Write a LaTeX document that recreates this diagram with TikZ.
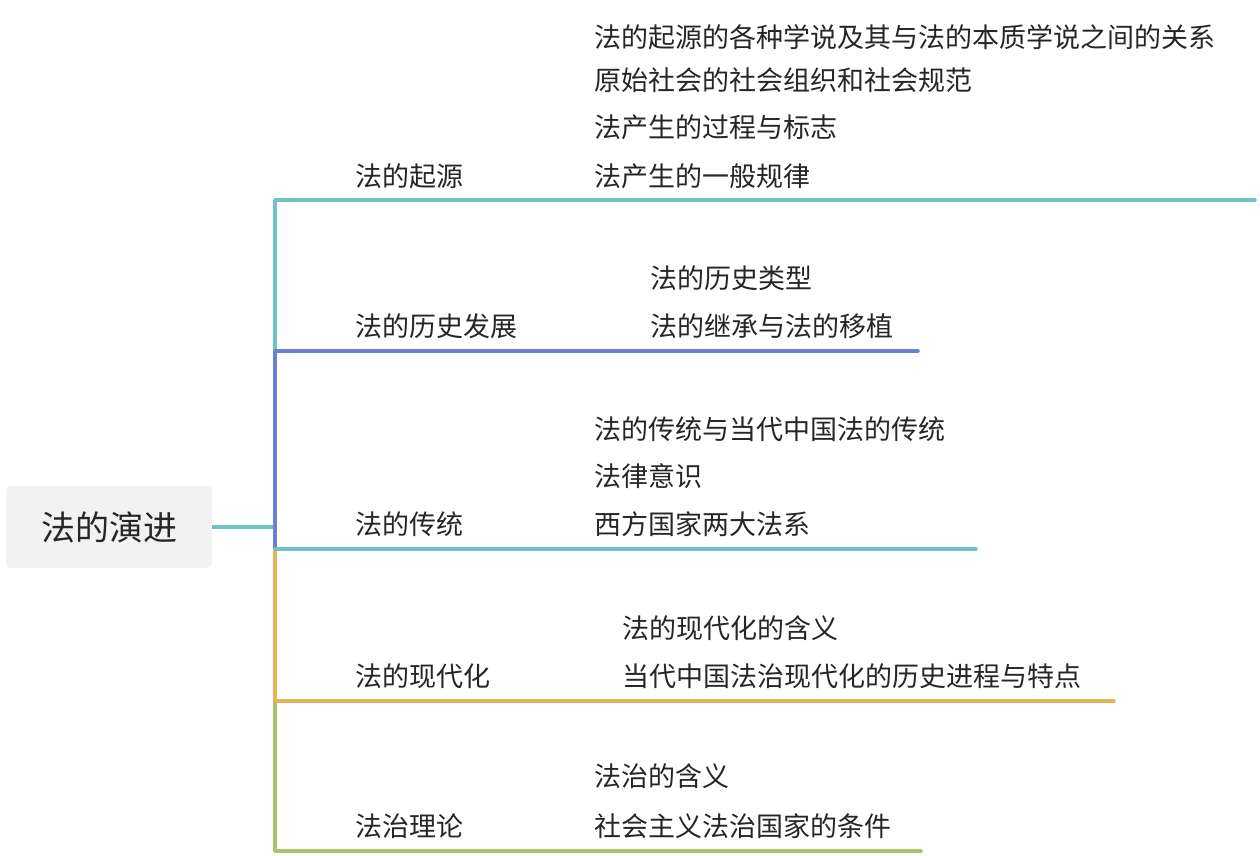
\documentclass[tikz,border=0pt]{standalone}
\usepackage{fontspec}
\setmainfont{Noto Sans CJK SC}
\begin{document}
\begin{tikzpicture}[x=1pt,y=-1pt,
  txt/.style={anchor=west,inner sep=0pt,font=\fontsize{27}{27}\selectfont,text=black!85},
  ln/.style={line width=3.5pt}]
\definecolor{cteal}{HTML}{6EC4C4}
\definecolor{cblue}{HTML}{6B7FD7}
\definecolor{corange}{HTML}{E3B655}
\definecolor{cgreen}{HTML}{A9C46B}
\useasboundingbox (0,0) rectangle (1260,856);
\node[fill=black!5,rounded corners=5pt,minimum width=206pt,minimum height=82pt,font=\fontsize{34}{34}\selectfont,text=black!85] (root) at (109,527) {法的演进};
\coordinate (j) at (275,527);
\draw[ln,cteal] (root.east) -- (j);
\coordinate (v1) at (275,200); \coordinate (v2) at (275,351); \coordinate (v3) at (275,549);
\coordinate (v4) at (275,701); \coordinate (v5) at (275,851);
\draw[ln,cteal] (v1) -- (v2);
\draw[ln,cblue] (v2) -- (v3);
\draw[ln,corange] (v3) -- (v4);
\draw[ln,cgreen] (v4) -- (v5);
\coordinate (e1) at (1255,200); \coordinate (e2) at (918,351); \coordinate (e3) at (976,549);
\coordinate (e4) at (1114,701); \coordinate (e5) at (921,851);
\draw[ln,cteal,line cap=round] (v1) -- (e1);
\draw[ln,cblue,line cap=round] (v2) -- (e2);
\draw[ln,cteal,line cap=round] (v3) -- (e3);
\draw[ln,corange,line cap=round] (v4) -- (e4);
\draw[ln,cgreen,line cap=round] (v5) -- (e5);
\node[txt] (b1) at (355,176) {法的起源};
\node[txt] (b2) at (355,326) {法的历史发展};
\node[txt] (b3) at (355,524) {法的传统};
\node[txt] (b4) at (355,676) {法的现代化};
\node[txt] (b5) at (355,826) {法治理论};
\node[txt] (l11) at (594,37) {法的起源的各种学说及其与法的本质学说之间的关系};
\node[txt] (l12) at (594,80) {原始社会的社会组织和社会规范};
\node[txt] (l13) at (594,127) {法产生的过程与标志};
\node[txt] (l14) at (594,176) {法产生的一般规律};
\node[txt] (l21) at (650,278) {法的历史类型};
\node[txt] (l22) at (650,326) {法的继承与法的移植};
\node[txt] (l31) at (594,429) {法的传统与当代中国法的传统};
\node[txt] (l32) at (594,476) {法律意识};
\node[txt] (l33) at (594,524) {西方国家两大法系};
\node[txt] (l41) at (622,628) {法的现代化的含义};
\node[txt] (l42) at (622,676) {当代中国法治现代化的历史进程与特点};
\node[txt] (l51) at (594,776) {法治的含义};
\node[txt] (l52) at (594,826) {社会主义法治国家的条件};
\end{tikzpicture}
\end{document}
